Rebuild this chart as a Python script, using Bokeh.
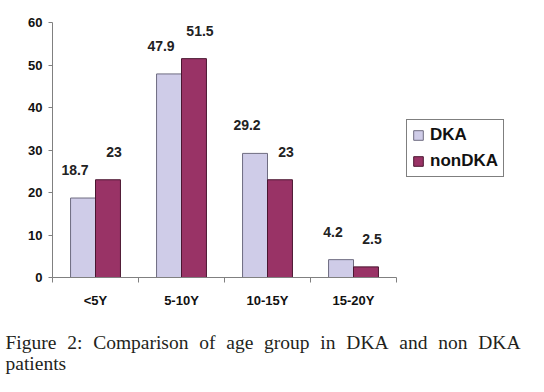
import numpy as np
from bokeh.plotting import figure
from bokeh.models import Range1d, FixedTicker, Legend, LegendItem, Label, LinearAxis
from bokeh.embed import file_html
from bokeh.resources import INLINE
from bokeh.core.properties import value

# ---- data ----
categories = ["<5Y", "5-10Y", "10-15Y", "15-20Y"]
dka = [18.7, 47.9, 29.2, 4.2]
non_dka = [23, 51.5, 23, 2.5]
series_names = ["DKA", "nonDKA"]
y_ticks = [0, 10, 20, 30, 40, 50, 60]
caption_line1 = "Figure 2: Comparison of age group in DKA and non DKA"
caption_line2 = "patients"

# ---- style / layout ----
DKA_FILL, DKA_LINE = "#CFCCE8", "#6E6C80"
NON_FILL, NON_LINE = "#993366", "#4A1630"
AXIS_COLOR = "#808080"
SANS = "Liberation Sans"
SERIF = "Liberation Serif"
CAP_SIZE = 19.5
BAR_W = 0.29
W, H = 528, 376
PLOT_LEFT, PLOT_RIGHT = 52, 396     # pixel extent of the category axis
PLOT_TOP, PLOT_BOTTOM = 22, 277     # pixel extent of the value axis
Y_MAX = 60
CAP_LEFT, CAP_RIGHT = 5, 520        # justified caption line extent
line_baselines = [342, 363]

# Times / Liberation Serif advance widths (per 1000 em) for justification
SERIF_W = {"F": 556, "i": 278, "g": 500, "u": 500, "r": 333, "e": 444, "2": 500,
           ":": 278, "C": 667, "o": 500, "m": 778, "p": 500, "a": 444, "s": 389,
           "n": 500, "f": 333, "D": 722, "K": 722, "A": 722, "d": 500, "t": 278}

n = len(categories)
centers = np.arange(n) + 0.5
px_x = (PLOT_RIGHT - PLOT_LEFT) / n
px_y = (PLOT_BOTTOM - PLOT_TOP) / Y_MAX

p = figure(width=W, height=H, output_backend="svg", toolbar_location=None,
           x_range=Range1d(-PLOT_LEFT / px_x, n + (W - PLOT_RIGHT) / px_x),
           y_range=Range1d(-(H - PLOT_BOTTOM) / px_y, Y_MAX + PLOT_TOP / px_y),
           min_border=0, x_axis_location=None, y_axis_location=None)
p.outline_line_color = None
p.grid.visible = False

r1 = p.vbar(x=centers - BAR_W / 2, top=dka, width=BAR_W,
            fill_color=DKA_FILL, line_color=DKA_LINE, line_width=1)
r2 = p.vbar(x=centers + BAR_W / 2, top=non_dka, width=BAR_W,
            fill_color=NON_FILL, line_color=NON_LINE, line_width=1)

for vals, dx, xo in ((dka, -BAR_W / 2, -8), (non_dka, BAR_W / 2, 6)):
    p.text(x=centers + dx, y=vals, text=[f"{v:g}" for v in vals],
           text_font=value(SANS), text_font_style="bold", text_font_size="14px",
           text_align="center", text_baseline="middle", text_color="#222222",
           x_offset=xo, y_offset=-28)

# y axis
ya = LinearAxis(fixed_location=0, bounds=(0, Y_MAX),
                ticker=FixedTicker(ticks=y_ticks, minor_ticks=[]))
ya.axis_line_color = AXIS_COLOR
ya.major_tick_line_color = AXIS_COLOR
ya.major_tick_out = 4
ya.major_tick_in = 0
ya.minor_tick_line_color = None
ya.major_label_text_font = SANS
ya.major_label_text_font_style = "bold"
ya.major_label_text_font_size = "13px"
ya.major_label_text_color = "#111111"
ya.major_label_standoff = 6
p.add_layout(ya, "left")

# x axis
xa = LinearAxis(fixed_location=0, bounds=(0, n),
                ticker=FixedTicker(ticks=list(centers), minor_ticks=list(range(n + 1))))
xa.major_label_overrides = {float(c): lab for c, lab in zip(centers, categories)}
xa.axis_line_color = AXIS_COLOR
xa.major_tick_line_color = None
xa.major_tick_out = 0
xa.major_tick_in = 0
xa.minor_tick_line_color = AXIS_COLOR
xa.minor_tick_out = 5
xa.minor_tick_in = 0
xa.major_label_text_font = SANS
xa.major_label_text_font_style = "bold"
xa.major_label_text_font_size = "13px"
xa.major_label_text_color = "#111111"
xa.major_label_standoff = 10
p.add_layout(xa, "below")

legend = Legend(items=[LegendItem(label=series_names[0], renderers=[r1]),
                       LegendItem(label=series_names[1], renderers=[r2])],
                location=(406, H - 177), orientation="vertical",
                border_line_color="black", border_line_width=1,
                background_fill_color="white", background_fill_alpha=1,
                label_text_font=SANS, label_text_font_style="bold",
                label_text_font_size="17px", label_text_color="#111111",
                glyph_width=12, glyph_height=12, label_standoff=6,
                label_height=20, spacing=6, padding=5, margin=0)
p.add_layout(legend)

# ---- caption (justified first line) ----
words = caption_line1.split(" ")
widths = [sum(SERIF_W.get(ch, 500) for ch in w) / 1000 * CAP_SIZE for w in words]
gap = ((CAP_RIGHT - CAP_LEFT) - sum(widths)) / (len(words) - 1)
x = CAP_LEFT
for w, wd in zip(words, widths):
    p.add_layout(Label(x=x, y=H - line_baselines[0], x_units="screen", y_units="screen",
                       text=w, text_font=SERIF, text_font_size=f"{CAP_SIZE}px",
                       text_color="#231F20", text_baseline="alphabetic"))
    x += wd + gap
p.add_layout(Label(x=CAP_LEFT, y=H - line_baselines[1], x_units="screen",
                   y_units="screen", text=caption_line2, text_font=SERIF,
                   text_font_size=f"{CAP_SIZE}px", text_color="#231F20",
                   text_baseline="alphabetic"))

open("out.html", "w").write(file_html(p, INLINE))
